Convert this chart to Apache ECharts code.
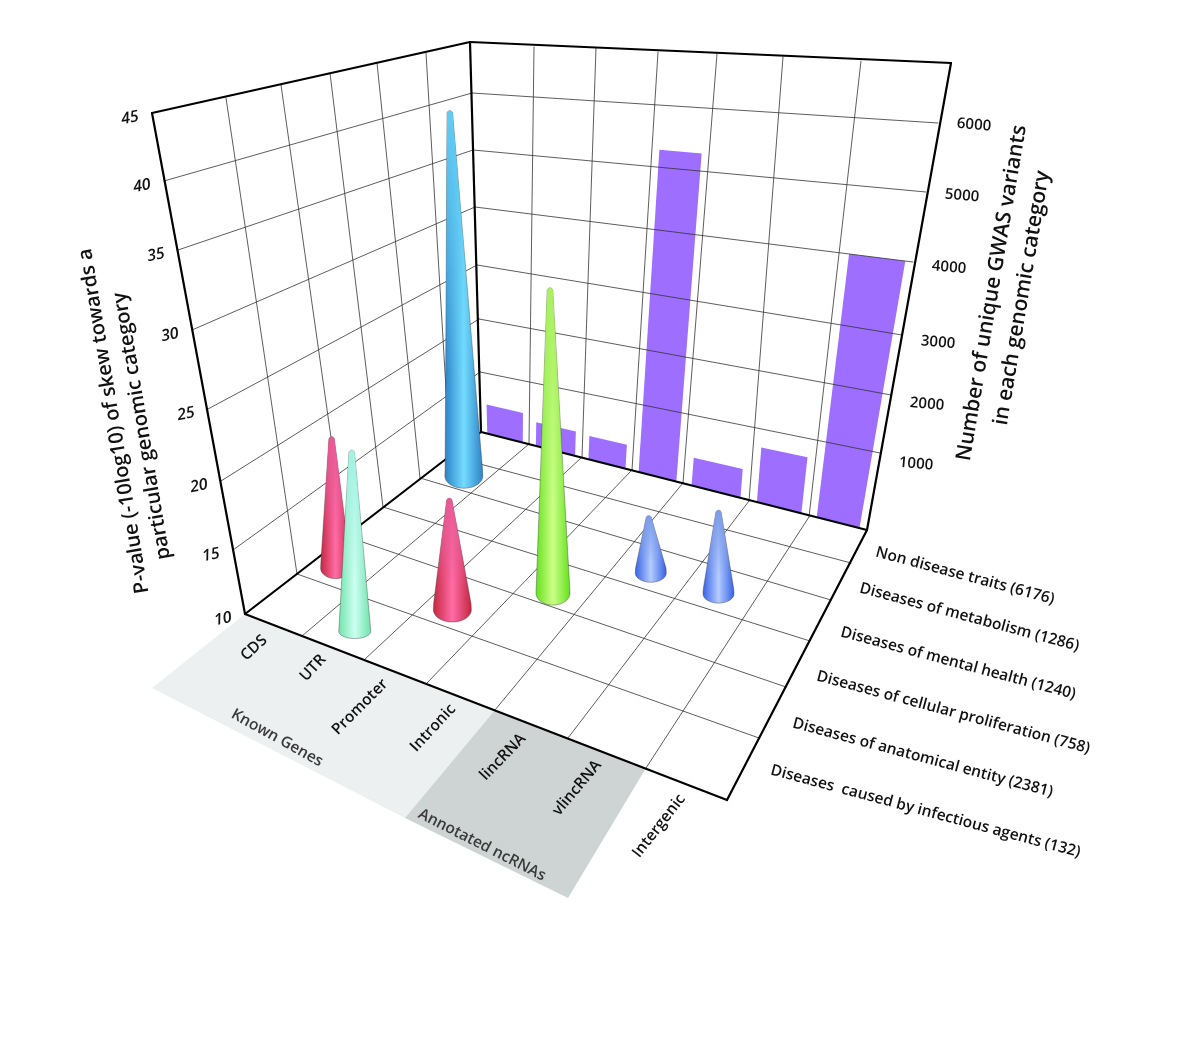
<!DOCTYPE html>
<html><head><meta charset="utf-8">
<script src="https://cdn.jsdelivr.net/npm/echarts@6/dist/echarts.min.js"></script>
<style>html,body{margin:0;padding:0;background:#fff}#c{width:1200px;height:1038px}</style>
</head><body><div id="c"></div>
<script>
// ---- data ----
const genomicCategories = ['CDS','UTR','Promoter','Intronic','lincRNA','vlincRNA','Intergenic'];
const diseaseCategories = ['Diseases  caused by infectious agents (132)','Diseases of anatomical entity (2381)','Diseases of cellular proliferation (758)','Diseases of mental health (1240)','Diseases of metabolism (1286)','Non disease traits (6176)'];
const pValueTicks = [10,15,20,25,30,35,40,45];
const variantTicks = [1000,2000,3000,4000,5000,6000];
const variantCounts = [480,380,360,5280,400,750,4000];
const coneColumns = [0,0,2,3,4,5,1];
const coneRows    = [4,1,1,2,3,3,0];
const conePValues = [40,20.4,18.45,31.5,14.15,15.9,23.1];
const groupNames = ['Known Genes','Annotated ncRNAs'];
const leftTitle = ['P-value (-10log10) of skew towards a','particular genomic category'];
const rightTitle = ['Number of unique GWAS variants','in each genomic category'];

// ---- drawing layout (perspective frame, styles) ----
const FONT = '"Open Sans"';
const edgeFront = [[245,614],[302,636],[364,660],[427,683],[495,710],[568,738],[646,768],[727,800]];
const edgeBack  = [[481,432],[529,444],[582,457],[632,470],[683,483],[749,501],[809,517],[867,530]];
const edgeFloorL= [[245,614],[297,574],[345,536],[383,507],[420,478],[450,456],[481,432]];
const edgeFloorR= [[727,800],[759,738],[786,687],[810,641],[831,600],[851,563],[867,530]];
const edgeCornerFL=[[245,614],[233,550],[221,481],[208,409],[192,330],[178,250],[164,181],[152,113]];
const edgeCornerBL=[[481,432],[480,372],[479,319],[477,265],[475,207],[473,150],[472,93],[470,42]];
const edgeCornerBR=[[867,530],[880,453],[891,395],[902,335],[913,262],[926,192],[938,123],[951,63]];
const edgeTopL  = [[152,113],[226,98],[281,85],[330,73],[377,63],[426,53],[470,42]];
const edgeTopB  = [[470,42],[534,47],[596,48],[658,52],[717,54],[783,57],[861,61],[951,63]];
const floorWall = {bottom:edgeFront,top:edgeBack,left:edgeFloorL,right:edgeFloorR};
const backWall  = {bottom:edgeBack,top:edgeTopB,left:edgeCornerBL,right:edgeCornerBR};
const coneStyles = [
 {r:19,ry:.65,rise:4,edge:'#2b80c6',mid:'#74dcff',top:'#62ccf4',nudge:[7,3],lean:-14},
 {r:15,ry:.7,rise:4,edge:'#c4263f',mid:'#ff6ca6',top:'#e85a96',nudge:[-7,3],lean:-4},
 {r:19,ry:.65,rise:4,edge:'#c4263f',mid:'#ff6ca6',top:'#e85a96',nudge:[-6,4],lean:-3},
 {r:17,ry:.7,rise:0,edge:'#62e01c',mid:'#ccff88',top:'#a8f060',nudge:[-3,3],lean:-3},
 {r:15.5,ry:.6,rise:3,edge:'#3560e4',mid:'#b4ccff',top:'#7c9ce8',nudge:[0,2],lean:-2},
 {r:15.5,ry:.6,rise:3,edge:'#3560e4',mid:'#b4ccff',top:'#7c9ce8',nudge:[0,2],lean:0},
 {r:16,ry:.45,rise:0,edge:'#6fe2a8',mid:'#ccfff2',top:'#a4f2e2',nudge:[3,0],lean:-3}
];
const rowLabelAnchors=[[771,770],[793,723],[817,676],[841,632],[860,588],[876,552]];
const colLabelAnchors=[[254,648],[313,668],[360,707],[433,728],[503,757],[577,788],[659,826]];
const colLabelAngles=[43,47,45,47,46,50,52];

function at(pts,t){const i=Math.max(0,Math.min(pts.length-2,Math.floor(t)));const f=t-i;
  return [pts[i][0]+(pts[i+1][0]-pts[i][0])*f,pts[i][1]+(pts[i+1][1]-pts[i][1])*f];}
function meet(a,b,c,d){const r=[b[0]-a[0],b[1]-a[1]],s=[d[0]-c[0],d[1]-c[1]];
  const den=r[0]*s[1]-r[1]*s[0];const t=((c[0]-a[0])*s[1]-(c[1]-a[1])*s[0])/den;return [a[0]+t*r[0],a[1]+t*r[1]];}
function lattice(w,u,v){return meet(at(w.bottom,u),at(w.top,u),at(w.left,v),at(w.right,v));}
function lift(u,v,level){
  const off=e=>{const p=at(e,level);return [p[0]-e[0][0],p[1]-e[0][1]];};
  const FL=off(edgeCornerFL),BL=off(edgeCornerBL),BR=off(edgeCornerBR);
  const FR=[FL[0]+BR[0]-BL[0],FL[1]+BR[1]-BL[1]];const a=u/7,b=v/6;
  return [0,1].map(k=>(FL[k]*(1-a)+FR[k]*a)*(1-b)+(BL[k]*(1-a)+BR[k]*a)*b);
}
const line=(a,b,w,c)=>({type:'line',shape:{x1:a[0],y1:a[1],x2:b[0],y2:b[1]},style:{stroke:c,lineWidth:w,lineCap:'round'},silent:true});
const label=(t,p,deg,size,o)=>({type:'text',x:p[0],y:p[1],rotation:deg*Math.PI/180,silent:true,
  style:Object.assign({text:t,fontFamily:FONT,fontSize:size,fontWeight:600,fill:'#111',align:'center',verticalAlign:'middle'},o||{})});
const G=echarts.graphic;
const GW=1200,GH=1038;
const toU=x=>x/GW*7, toLevel=y=>(GH-y)/GH*7;

function renderBands(){
  const d=[-93,74],a=edgeFront[0],m=edgeFront[4],e=edgeFront[6];
  const off=(p,k)=>[p[0]+d[0]*k,p[1]+d[1]*k];
  const m2=[m[0]-90,m[1]+108], e2=[e[0]-78,e[1]+130];
  return {type:'group',children:[
    {type:'polygon',shape:{points:[a,m,m2,off(a,1)]},style:{fill:'#ecf0f0'},silent:true},
    {type:'polygon',shape:{points:[m,e,e2,m2]},style:{fill:'#ced4d3'},silent:true}
  ]};
}
function renderBar(params,api){
  const i=api.value(0),v=api.value(1);
  const top=toLevel(api.coord([i,v])[1]);
  const cu=toU(api.coord([i,v])[0]);const hw=toU(api.size([1,0])[0])*0.37;
  const pts=[lattice(backWall,cu-hw,0),lattice(backWall,cu+hw,0),lattice(backWall,cu+hw,top),lattice(backWall,cu-hw,top)];
  return {type:'polygon',shape:{points:pts},style:{fill:'#9d6eff'}};
}
function renderFrame(){
  const kids=[];const gc='#333',gw=0.8;
  for(let i=1;i<7;i++)kids.push(line(edgeFront[i],edgeBack[i],gw,gc),line(edgeBack[i],edgeTopB[i],gw,gc));
  for(let i=1;i<6;i++)kids.push(line(edgeFloorL[i],edgeFloorR[i],gw,gc));
  for(let i=1;i<6;i++)kids.push(line(edgeFloorL[i],edgeTopL[i],gw,gc));
  for(let i=1;i<7;i++)kids.push(line(edgeCornerFL[i],edgeCornerBL[i],gw,gc),line(edgeCornerBL[i],edgeCornerBR[i],gw,gc));
  const K='#000',w=2.2;
  const tl=edgeCornerFL[7],tb=edgeCornerBL[7],tr=edgeCornerBR[7],fl=edgeCornerFL[0],bl=edgeCornerBL[0],br=edgeCornerBR[0],fr=edgeFront[7];
  [[fl,tl],[tl,tb],[tb,bl],[tb,tr],[tr,br],[bl,br],[fl,bl],[fl,fr],[fr,br]].forEach(s=>kids.push(line(s[0],s[1],w,K)));
  return {type:'group',children:kids};
}
function conePoints(b,a,r,ryf){
  const pts=[],ry=r*ryf,tip=2.8;
  for(let k=0;k<=14;k++){const t=Math.PI*k/14;pts.push([a[0]-tip*Math.cos(t),a[1]+tip-tip*Math.sin(t)]);}
  pts.push([b[0]+r*0.985,b[1]-ry*0.5]);
  for(let k=0;k<=20;k++){const t=Math.PI*k/20;pts.push([b[0]+r*Math.cos(t),b[1]+ry*Math.sin(t)]);}
  pts.push([b[0]-r*0.985,b[1]-ry*0.5]);
  return pts;
}
function renderCone(params,api){
  const col=api.value(0),row=api.value(1),val=api.value(2);
  const c=api.coord([col,val]);const u=toU(c[0]),v=row+0.38;
  const st=coneStyles[params.dataIndex];
  const b0=lattice(floorWall,u,v);const base=[b0[0]+st.nudge[0],b0[1]+st.nudge[1]];
  const o=lift(u,v,toLevel(c[1]));
  const apex=[base[0]+st.lean,base[1]+o[1]];
  const pts=conePoints([base[0],base[1]-st.rise],apex,st.r,st.ry);
  const hex=st.top;
  return {type:'group',children:[
    {type:'polygon',shape:{points:pts},style:{stroke:'rgba(50,50,50,0.55)',lineWidth:0.7,
      fill:new G.LinearGradient(0,0,1,0,[{offset:0,color:st.edge},{offset:0.5,color:st.mid},{offset:1,color:st.edge}])}},
    {type:'polygon',shape:{points:pts},silent:true,style:{
      fill:new G.LinearGradient(0,0,0,1,[{offset:0,color:hex},{offset:0.25,color:hex+'b0'},{offset:0.7,color:hex+'00'},{offset:1,color:hex+'00'}])}}
  ]};
}
function renderText(){
  const kids=[];
  pValueTicks.forEach((t,i)=>{const p=edgeCornerFL[i];kids.push(label(String(t),[p[0]-22,p[1]+5],11,16,{fontStyle:'italic'}));});
  variantTicks.forEach((t,i)=>{const p=edgeCornerBR[i+1];kids.push(label(String(t),[p[0]+36,p[1]+11-i*1.8],-5,15));});
  genomicCategories.forEach((t,i)=>kids.push(label(t,colLabelAnchors[i],colLabelAngles[i],15.5)));
  diseaseCategories.forEach((t,i)=>kids.push(label(t,rowLabelAnchors[i],-15,15.5,{align:'left'})));
  kids.push(label(groupNames[0],[277,738],-29,15.5,{fill:'#3a3a3a'}));
  kids.push(label(groupNames[1],[482,845],-27,15.5,{fill:'#3a3a3a'}));
  kids.push(label(leftTitle[0],[114,421],99.5,20));
  kids.push(label(leftTitle[1],[142,426],99.5,20));
  kids.push(label(rightTitle[0],[992,293],80.5,21));
  kids.push(label(rightTitle[1],[1022,298],80.5,21));
  return {type:'group',children:kids};
}
const barData=variantCounts.map((v,i)=>[i,v]);
const coneData=conePValues.map((v,i)=>[coneColumns[i],coneRows[i],v]);
const chart=echarts.init(document.getElementById('c'),null,{renderer:'canvas'});
chart.setOption({
  animation:false,backgroundColor:'#fff',
  grid:{left:0,top:0,width:GW,height:GH,containLabel:false},
  xAxis:[{type:'category',data:genomicCategories,show:false}],
  yAxis:[{type:'value',min:10,max:45,show:false,scale:true},{type:'value',min:0,max:7000,show:false}],
  series:[
   {type:'custom',coordinateSystem:'none',z:1,data:[[0]],renderItem:renderBands,silent:true},
   {type:'custom',name:'Unique GWAS variants',xAxisIndex:0,yAxisIndex:1,z:2,clip:false,data:barData,encode:{x:0,y:1},renderItem:renderBar},
   {type:'custom',coordinateSystem:'none',z:3,data:[[0]],renderItem:renderFrame,silent:true},
   {type:'custom',name:'P-value skew',xAxisIndex:0,yAxisIndex:0,z:4,clip:false,data:coneData,encode:{x:0,y:2},renderItem:renderCone},
   {type:'custom',coordinateSystem:'none',z:5,data:[[0]],renderItem:renderText,silent:true}
  ]
});
</script></body></html>
